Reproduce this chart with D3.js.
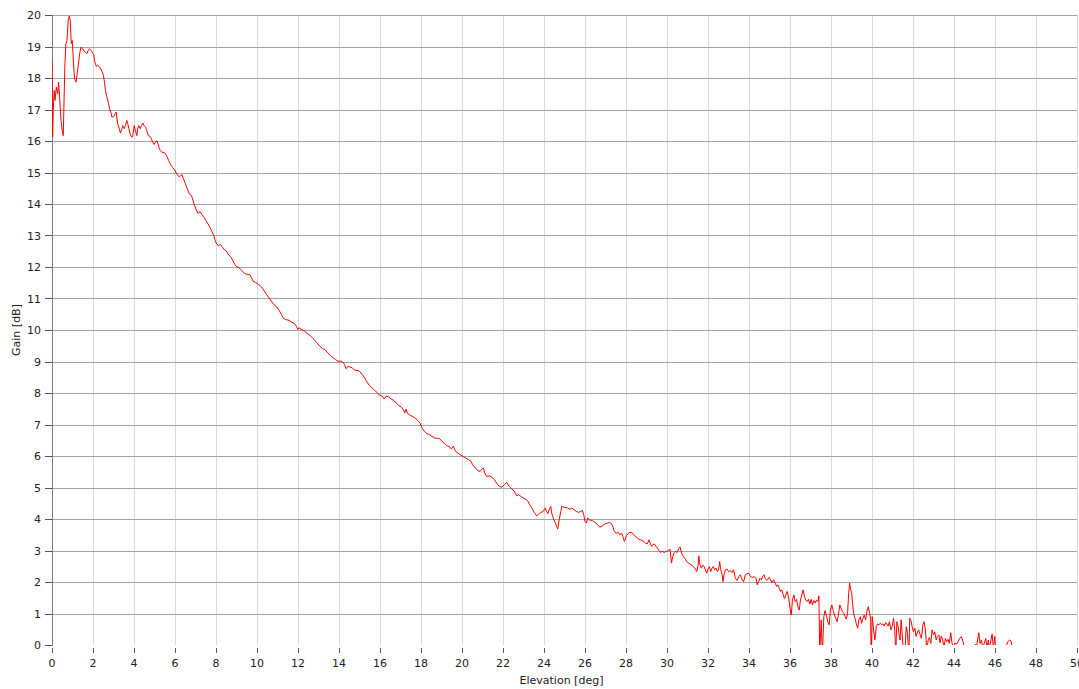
<!DOCTYPE html>
<html lang="en">
  <head>
    <title>Gain vs Elevation</title>
    <style>
      body {
        margin: 0;
        padding: 0;
        background: #fff;
      }
      #chart text {
        font-family: 'DejaVu Sans', Verdana, sans-serif;
        font-size: 11px;
        fill: #222;
      }
    </style>
  </head>
  <body>
    <div id="chart"></div>
    <script src="https://cdn.jsdelivr.net/npm/d3@7/dist/d3.min.js"></script>
    <script>

    // elevation [deg]
    var elevation = [
      0.00, 0.03, 0.06, 0.11, 0.15, 0.21, 0.28, 0.32, 0.37, 0.44, 0.50, 0.55, 0.58, 0.63, 0.68, 0.73, 0.79, 0.84, 0.89, 0.94,
      0.99, 1.05, 1.10, 1.17, 1.22, 1.28, 1.35, 1.41, 1.48, 1.54, 1.62, 1.70, 1.77, 1.83, 1.90, 1.96, 2.03, 2.09, 2.16, 2.24,
      2.32, 2.38, 2.45, 2.51, 2.56, 2.61, 2.68, 2.76, 2.81, 2.87, 2.92, 3.00, 3.08, 3.13, 3.16, 3.21, 3.28, 3.34, 3.41, 3.45,
      3.52, 3.58, 3.65, 3.70, 3.75, 3.81, 3.89, 3.94, 4.01, 4.07, 4.14, 4.18, 4.23, 4.30, 4.36, 4.43, 4.49, 4.56, 4.62, 4.70,
      4.79, 4.85, 4.91, 4.98, 5.04, 5.11, 5.17, 5.22, 5.27, 5.37, 5.47, 5.56, 5.63, 5.69, 5.76, 5.82, 5.89, 5.99, 6.08, 6.18,
      6.28, 6.34, 6.41, 6.50, 6.60, 6.70, 6.80, 6.86, 6.93, 7.02, 7.12, 7.22, 7.32, 7.41, 7.51, 7.61, 7.70, 7.80, 7.90, 7.96,
      8.03, 8.13, 8.22, 8.32, 8.42, 8.52, 8.61, 8.71, 8.81, 8.91, 9.00, 9.10, 9.20, 9.29, 9.39, 9.49, 9.59,
      9.65, 9.73, 9.81, 9.94, 10.06, 10.22, 10.33, 10.46, 10.59, 10.70, 10.82, 10.95, 11.08, 11.19, 11.27, 11.40, 11.56, 11.69,
      11.82, 11.92, 11.99, 12.05, 12.16, 12.33, 12.44, 12.57, 12.70, 12.81, 12.93, 13.06, 13.19, 13.32, 13.45, 13.58, 13.71,
      13.83, 13.95, 14.06, 14.19, 14.27, 14.35, 14.44, 14.52, 14.65, 14.76, 14.87, 15.00, 15.13, 15.25, 15.36, 15.49, 15.62,
      15.73, 15.85, 15.98, 16.11, 16.20, 16.30, 16.43, 16.54, 16.66, 16.79, 16.92, 17.03, 17.14, 17.21, 17.27, 17.34, 17.44,
      17.57, 17.70, 17.84, 17.95, 18.05, 18.17, 18.28, 18.41, 18.54, 18.67, 18.80,
      18.90, 19.03, 19.14, 19.26, 19.39, 19.48, 19.58, 19.68, 19.79, 19.91, 20.04, 20.17, 20.33, 20.44, 20.52, 20.65, 20.77,
      20.88, 20.98, 21.04, 21.11, 21.20, 21.33, 21.46, 21.58, 21.69, 21.82, 21.95, 22.06, 22.18, 22.31, 22.44, 22.55, 22.66,
      22.76, 22.87, 22.99, 23.12, 23.21, 23.31, 23.41, 23.52, 23.64, 23.77, 23.86, 23.96, 24.06, 24.12, 24.19, 24.25, 24.33,
      24.38, 24.45, 24.54, 24.61, 24.67, 24.74, 24.82, 24.87, 24.98, 25.15, 25.26, 25.36, 25.47, 25.58, 25.68, 25.79, 25.87,
      25.94, 26.00, 26.07, 26.13, 26.23, 26.36, 26.49, 26.62, 26.72, 26.85, 26.98, 27.09, 27.20, 27.30, 27.37, 27.43, 27.53,
      27.63, 27.69, 27.79, 27.85, 27.92, 28.02, 28.15, 28.28, 28.39, 28.50, 28.63,
      28.76, 28.87, 28.95, 29.04, 29.12, 29.18, 29.25, 29.31, 29.38, 29.47, 29.57, 29.67, 29.77, 29.86, 29.96, 30.06, 30.15,
      30.22, 30.28, 30.35, 30.41, 30.50, 30.58, 30.64, 30.71, 30.80, 30.90, 31.00, 31.10, 31.19, 31.29, 31.39, 31.45, 31.52,
      31.55, 31.61, 31.68, 31.74, 31.81, 31.87, 31.94, 32.00, 32.07, 32.13, 32.20, 32.26, 32.33, 32.39, 32.46, 32.52, 32.57,
      32.62, 32.69, 32.73, 32.78, 32.85, 32.93, 33.01, 33.09, 33.17, 33.25, 33.33, 33.42, 33.50, 33.58, 33.66, 33.74, 33.82,
      33.90, 33.98, 34.08, 34.18, 34.27, 34.34, 34.40, 34.47, 34.53, 34.60, 34.66, 34.73, 34.79, 34.86, 34.92, 34.99, 35.05,
      35.12, 35.20, 35.28, 35.35, 35.41, 35.48, 35.54, 35.60, 35.67, 35.73, 35.80, 35.86, 35.93, 35.99, 36.06, 36.12, 36.19,
      36.25, 36.32, 36.38, 36.45, 36.51, 36.58, 36.64, 36.71, 36.77, 36.84, 36.90, 36.97, 37.03, 37.10, 37.16, 37.23, 37.29,
      37.36, 37.41, 37.45, 37.52, 37.58, 37.65, 37.71, 37.78, 37.84, 37.91, 37.97, 38.04, 38.10, 38.17, 38.23, 38.30, 38.36,
      38.43, 38.49, 38.56, 38.62, 38.69, 38.75, 38.81,
      38.86, 38.91, 38.96, 39.01, 39.05, 39.10, 39.17, 39.23, 39.30, 39.36, 39.43, 39.49, 39.56, 39.62, 39.69, 39.75, 39.82,
      39.88, 39.93, 39.96, 40.01, 40.08, 40.14, 40.21, 40.27, 40.34, 40.40, 40.47, 40.53, 40.60, 40.66, 40.72, 40.79, 40.85,
      40.92, 40.98, 41.05, 41.11, 41.16, 41.21, 41.28, 41.33, 41.37, 41.42, 41.47, 41.54, 41.60, 41.67, 41.73, 41.80, 41.84,
      41.89, 41.96, 42.02, 42.09, 42.15, 42.22, 42.28, 42.35, 42.41, 42.48, 42.54, 42.61, 42.67, 42.74, 42.80, 42.87, 42.93,
      43.00, 43.06, 43.13, 43.19, 43.26, 43.32, 43.38, 43.45, 43.51, 43.58, 43.64, 43.71, 43.77, 43.84, 43.90, 43.97, 44.03,
      44.13, 44.20, 44.28, 44.36, 44.44, 44.52, 44.70, 44.90,
      45.00, 45.05, 45.10, 45.21, 45.27, 45.34, 45.40, 45.50, 45.55, 45.61, 45.67, 45.73, 45.86, 45.92, 45.99, 46.02, 46.20,
      46.40, 46.54, 46.63, 46.72, 46.78, 46.83
    ];

    // gain [dB]; values below 0 fall outside the plot and get clipped
    var gain = [
      18.60, 16.12, 16.97, 17.60, 17.29, 17.71, 17.50, 17.87, 17.39, 16.65, 16.33, 16.17, 17.07, 18.45, 19.09, 19.19, 19.83, 19.96, 19.83, 19.09,
      19.19, 18.45, 17.98, 17.87, 18.08, 18.40, 18.77, 18.98, 18.93, 18.88, 18.82, 18.77, 18.88, 18.93, 18.88, 18.82, 18.75, 18.51, 18.37, 18.40,
      18.35, 18.29, 18.19, 18.08, 17.87, 17.60, 17.39, 17.18, 17.02, 16.92, 16.76, 16.78, 16.86, 16.92, 16.76, 16.54, 16.39, 16.25, 16.39, 16.49,
      16.39, 16.49, 16.65, 16.54, 16.39, 16.23, 16.12, 16.17, 16.49, 16.33, 16.17, 16.39, 16.49, 16.39, 16.49, 16.57, 16.49, 16.44, 16.33, 16.17,
      16.14, 16.07, 15.96, 15.89, 15.96, 16.01, 15.91, 15.80, 15.70, 15.64, 15.64, 15.57, 15.48, 15.38, 15.29, 15.22, 15.15, 15.08, 14.96, 14.87,
      14.90, 14.93, 14.80, 14.66, 14.48, 14.32, 14.27, 14.16, 14.00, 13.84, 13.70, 13.76, 13.66, 13.58, 13.47, 13.37, 13.26, 13.13, 12.99, 12.84,
      12.73, 12.68, 12.71, 12.62, 12.54, 12.50, 12.39, 12.33, 12.22, 12.09, 12.01, 11.99, 11.93, 11.86, 11.80, 11.77, 11.76,
      11.76, 11.66, 11.55, 11.50, 11.45, 11.37, 11.27, 11.13, 11.02, 10.92, 10.81, 10.74, 10.63, 10.49, 10.39, 10.33, 10.31, 10.25,
      10.21, 10.12, 10.02, 10.07, 10.02, 9.96, 9.89, 9.84, 9.75, 9.68, 9.59, 9.49, 9.41, 9.38, 9.27, 9.19, 9.12,
      9.06, 9.01, 9.01, 8.98, 8.90, 8.77, 8.85, 8.83, 8.80, 8.72, 8.72, 8.69, 8.59, 8.48, 8.35, 8.24, 8.16,
      8.09, 8.02, 7.93, 7.90, 7.81, 7.90, 7.88, 7.81, 7.77, 7.68, 7.60, 7.56, 7.47, 7.37, 7.49, 7.35, 7.31,
      7.26, 7.21, 7.13, 7.05, 6.89, 6.78, 6.71, 6.68, 6.62, 6.57, 6.56,
      6.55, 6.47, 6.39, 6.33, 6.29, 6.22, 6.31, 6.15, 6.10, 6.04, 5.99, 5.94, 5.88, 5.83, 5.72, 5.62, 5.54,
      5.51, 5.59, 5.62, 5.46, 5.35, 5.37, 5.33, 5.25, 5.14, 5.03, 5.01, 5.09, 5.16, 5.03, 4.95, 4.88, 4.74,
      4.77, 4.72, 4.66, 4.63, 4.56, 4.45, 4.35, 4.21, 4.10, 4.17, 4.21, 4.24, 4.35, 4.24, 4.17, 4.29, 4.40,
      4.17, 4.03, 3.89, 3.78, 3.68, 3.97, 4.24, 4.40, 4.37, 4.35, 4.31, 4.35, 4.29, 4.24, 4.21, 4.24, 4.27,
      4.13, 3.92, 3.87, 4.03, 3.97, 3.95, 3.89, 3.82, 3.74, 3.78, 3.85, 3.87, 3.89, 3.85, 3.74, 3.60, 3.55,
      3.57, 3.50, 3.55, 3.44, 3.29, 3.47, 3.57, 3.57, 3.50, 3.42, 3.36,
      3.32, 3.29, 3.23, 3.21, 3.34, 3.23, 3.13, 3.18, 3.21, 3.13, 3.04, 2.94, 2.97, 2.94, 2.97, 3.00, 3.04,
      2.60, 2.81, 2.94, 2.97, 2.94, 3.07, 3.11, 2.92, 2.81, 2.72, 2.62, 2.58, 2.54, 2.49, 2.41, 2.33, 2.54,
      2.83, 2.54, 2.44, 2.54, 2.49, 2.39, 2.28, 2.41, 2.49, 2.33, 2.44, 2.49, 2.39, 2.44, 2.33, 2.41, 2.65,
      2.39, 2.23, 2.01, 2.23, 2.39, 2.41, 2.33, 2.36, 2.30, 2.39, 2.12, 2.05, 2.17, 2.23, 2.07, 2.01, 2.23,
      2.26, 2.28, 2.17, 2.15, 2.17, 2.12, 1.91, 2.01, 2.12, 2.07, 2.17, 2.23, 2.12, 2.05, 2.09, 2.15, 2.07,
      1.98, 2.07, 1.96, 1.86, 1.91, 1.80, 1.70, 1.75, 1.59, 1.48, 1.59, 1.70, 1.52, 1.22, 0.95, 1.43, 1.59,
      1.38, 1.45, 1.22, 1.11, 1.43, 1.59, 1.75, 1.52, 1.43, 1.38, 1.45, 1.30, 1.45, 1.27, 1.41, 1.33, 1.43,
      1.38, 1.56, -0.30, 0.80, -0.30, 0.90, 1.09, 0.92, 0.74, 0.64, 1.11, 1.27, 1.11, 0.95, 0.85, 0.74, 0.95,
      1.27, 1.17, 1.06, 1.01, 0.90, 0.82, 1.01,
      1.64, 1.96, 1.75, 1.64, 1.33, 1.01, 0.85, 0.69, 0.53, 0.80, 0.90, 0.69, 0.85, 0.95, 0.80, 1.06, 1.22,
      1.01, 0.85, -0.30, 0.90, 0.48, 0.16, 0.58, 0.67, 0.64, 0.69, 0.64, 0.67, 0.60, 0.71, 0.67, 0.60, 0.74,
      0.48, 0.58, 0.85, 0.48, -0.30, 0.74, 0.58, 0.27, 0.16, 0.80, 0.37, -0.30, -0.30, 0.58, 0.37, -0.30, 0.85,
      0.80, 0.58, 0.42, 0.53, 0.27, 0.42, 0.48, 0.32, 0.21, 0.64, 0.74, 0.48, -0.20, 0.16, 0.24, 0.05, 0.48,
      0.32, 0.42, 0.16, 0.27, 0.32, 0.07, 0.29, 0.16, -0.10, 0.21, 0.11, 0.18, 0.05, 0.39, 0.07, -0.10, 0.05,
      0.03, 0.11, 0.21, 0.27, 0.11, -0.20, -0.40, -0.30,
      -0.05, 0.03, -0.05, 0.39, 0.05, 0.16, -0.10, 0.11, 0.21, -0.10, 0.16, -0.10, 0.35, -0.10, 0.27, -0.10, -0.40,
      -0.30, -0.05, 0.11, 0.16, 0.13, -0.05
    ];

    var xTicks = d3.range(0, 51, 2);
    var yTicks = d3.range(0, 21, 1);
    var xTitle = 'Elevation [deg]';
    var yTitle = 'Gain [dB]';

    var chartW = 1079;
    var chartH = 689;
    var plotL = 52, plotR = 1077, plotT = 15, plotB = 645;

    var x = d3.scaleLinear().domain([0, 50]).range([plotL, plotR]);
    var y = d3.scaleLinear().domain([0, 20]).range([plotB, plotT]);

    var svg = d3.select('#chart')
              .append('svg')
              .attr('width', chartW)
              .attr('height', chartH);

    var crisp = function(v) { return Math.round(v) + 0.5; };

    // vertical grid (light)
    svg.append('g')
      .selectAll('line')
      .data(xTicks.filter(function(d) { return d > 0; }))
      .enter().append('line')
      .attr('x1', function(d) { return crisp(x(d)); })
      .attr('x2', function(d) { return crisp(x(d)); })
      .attr('y1', plotT)
      .attr('y2', plotB)
      .style('stroke', '#dadada')
      .style('stroke-width', 1);

    // horizontal grid (darker)
    svg.append('g')
      .selectAll('line')
      .data(yTicks.filter(function(d) { return d > 0; }))
      .enter().append('line')
      .attr('x1', plotL)
      .attr('x2', plotR)
      .attr('y1', function(d) { return crisp(y(d)); })
      .attr('y2', function(d) { return crisp(y(d)); })
      .style('stroke', '#a3a3a3')
      .style('stroke-width', 1);

    // left axis line
    svg.append('line')
      .attr('x1', crisp(plotL)).attr('x2', crisp(plotL))
      .attr('y1', plotT).attr('y2', plotB + 1)
      .style('stroke', '#7a7a7a');

    // y ticks + labels
    var yg = svg.append('g');
    yg.selectAll('line')
      .data(yTicks)
      .enter().append('line')
      .attr('x1', plotL - 7).attr('x2', plotL)
      .attr('y1', function(d) { return crisp(y(d)); })
      .attr('y2', function(d) { return crisp(y(d)); })
      .style('stroke', '#555');
    yg.selectAll('text')
      .data(yTicks)
      .enter().append('text')
      .attr('x', plotL - 11)
      .attr('y', function(d) { return y(d) + 4; })
      .attr('text-anchor', 'end')
      .text(function(d) { return d; });

    // x ticks + labels
    var xg = svg.append('g');
    xg.selectAll('line')
      .data(xTicks)
      .enter().append('line')
      .attr('x1', function(d) { return crisp(x(d)); })
      .attr('x2', function(d) { return crisp(x(d)); })
      .attr('y1', plotB + 3)
      .attr('y2', plotB + 8)
      .style('stroke', '#555');
    xg.selectAll('text')
      .data(xTicks)
      .enter().append('text')
      .attr('x', function(d) { return x(d); })
      .attr('y', plotB + 22)
      .attr('text-anchor', 'middle')
      .text(function(d) { return d; });

    // axis titles
    svg.append('text')
      .attr('x', (plotL + plotR) / 2 - 3)
      .attr('y', plotB + 39)
      .attr('text-anchor', 'middle')
      .text(xTitle);

    svg.append('text')
      .attr('transform', 'translate(20,' + ((plotT + plotB) / 2) + ') rotate(-90)')
      .attr('text-anchor', 'middle')
      .text(yTitle);

    // trace, clipped to plot area
    svg.append('clipPath')
      .attr('id', 'plot-clip')
      .append('rect')
      .attr('x', plotL)
      .attr('y', plotT - 2)
      .attr('width', plotR - plotL)
      .attr('height', plotB - plotT + 2);

    var pts = elevation.map(function(e, i) { return [e, gain[i]]; });

    var line = d3.line()
      .x(function(d) { return x(d[0]); })
      .y(function(d) { return y(d[1]); });

    svg.append('path')
      .datum(pts)
      .attr('clip-path', 'url(#plot-clip)')
      .attr('d', line)
      .style('fill', 'none')
      .style('stroke', '#ff0000')
      .style('stroke-width', 1);

    </script>
  </body>
</html>
